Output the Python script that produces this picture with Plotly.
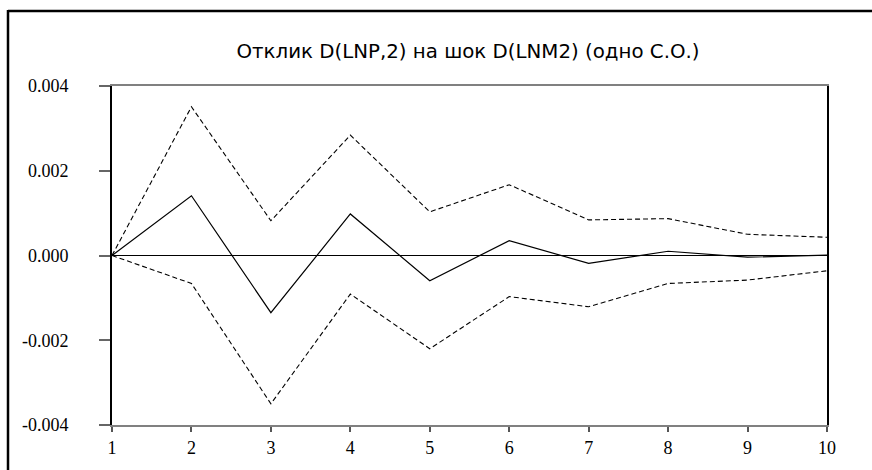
import plotly.graph_objects as go

periods = [1, 2, 3, 4, 5, 6, 7, 8, 9, 10]
response = [0.0, 0.00141, -0.00135, 0.00098, -0.000595, 0.00035, -0.000185, 0.0001, -0.00004, 0.00001]
upper_band = [0.0, 0.00351, 0.00082, 0.00284, 0.00103, 0.00167, 0.00084, 0.00087, 0.0005, 0.00043]
lower_band = [0.0, -0.00066, -0.0035, -0.00091, -0.0022, -0.00097, -0.00121, -0.00066, -0.00058, -0.00036]

y_tickvals = [-0.004, -0.002, 0.0, 0.002, 0.004]
y_ticktext = ["-0.004", "-0.002", "0.000", "0.002", "0.004"]
x_tickvals = periods
x_ticktext = [str(p) for p in periods]

title_text = "Отклик D(LNP,2) на шок D(LNM2) (одно С.О.)"

fig = go.Figure()
fig.add_trace(go.Scatter(x=periods, y=upper_band, mode="lines",
                         line=dict(color="black", width=1.1, dash="5px,3px"), showlegend=False))
fig.add_trace(go.Scatter(x=periods, y=lower_band, mode="lines",
                         line=dict(color="black", width=1.1, dash="5px,3px"), showlegend=False))
fig.add_trace(go.Scatter(x=periods, y=response, mode="lines",
                         line=dict(color="black", width=1.2), showlegend=False))

W, H = 872, 470
L, R, T, B = 112, 45, 86, 45
pw, ph = W - L - R, H - T - B

def px_to_paper_x(px):
    return (px - L) / pw

def px_to_paper_y(py):
    return (H - B - py) / ph

# outer frame (top and left edges)
fig.add_shape(type="line", xref="paper", yref="paper",
              x0=px_to_paper_x(8), x1=px_to_paper_x(900),
              y0=px_to_paper_y(11), y1=px_to_paper_y(11),
              line=dict(color="black", width=2.5))
fig.add_shape(type="line", xref="paper", yref="paper",
              x0=px_to_paper_x(8), x1=px_to_paper_x(8),
              y0=px_to_paper_y(10), y1=px_to_paper_y(500),
              line=dict(color="black", width=2.5))

fig.update_layout(
    width=W, height=H,
    margin=dict(l=L, r=R, t=T, b=B),
    paper_bgcolor="white", plot_bgcolor="white",
    title=dict(text=title_text, x=px_to_paper_x(468), xref="paper", xanchor="center",
               y=1 - 51 / H, yanchor="middle",
               font=dict(family="DejaVu Sans", size=19.8, color="black")),
    xaxis=dict(range=[1, 10], tickvals=x_tickvals, ticktext=x_ticktext,
               showgrid=False, zeroline=False,
               showline=True, linecolor="#808080", linewidth=2, mirror=True,
               ticks="outside", ticklen=5, tickcolor="#555", tickwidth=1.5,
               ticklabelstandoff=0,
               tickfont=dict(family="Liberation Serif", size=18, color="black")),
    yaxis=dict(range=[-0.004, 0.004], tickvals=y_tickvals, ticktext=y_ticktext,
               showgrid=False, zeroline=True, zerolinecolor="black", zerolinewidth=1,
               showline=True, linecolor="black", linewidth=2, mirror=True,
               ticks="outside", ticklen=11, tickcolor="#666", tickwidth=1.5,
               ticklabelstandoff=27,
               tickfont=dict(family="Liberation Serif", size=18, color="black")),
)

fig.write_html("out.html")
